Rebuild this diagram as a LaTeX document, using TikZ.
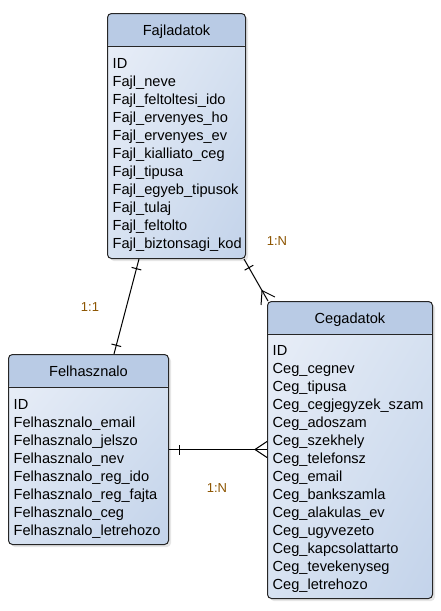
\documentclass[tikz,border=0pt]{standalone}
\usepackage{fontspec}
\setmainfont{Liberation Sans}
\usepackage{xcolor}
\usetikzlibrary{positioning, shadows, shadings, decorations.markings}

\definecolor{hdrblue}{RGB}{185,203,229}
\definecolor{bodylt}{RGB}{234,239,248}
\definecolor{bodymd}{RGB}{215,226,241}
\definecolor{bodydk}{RGB}{195,211,234}
\definecolor{cardtxt}{RGB}{140,84,0}

\begin{document}
\begin{tikzpicture}[
  x=1pt, y=-1pt,
  ent/.style={rectangle, rounded corners=4pt, draw=black!85, line width=1pt, inner sep=0pt,
              anchor=north west,
              drop shadow={shadow xshift=2.5pt, shadow yshift=-2.5pt, opacity=0.2},
              path picture={
                \shade[upper left=bodylt, upper right=bodymd, lower left=bodymd, lower right=bodydk]
                  (path picture bounding box.north west) rectangle (path picture bounding box.south east);
                \fill[hdrblue] (path picture bounding box.north west)
                  rectangle ([yshift=-\hdrh]path picture bounding box.north east);
                \draw[line width=1pt] ([yshift=-\hdrh]path picture bounding box.north west)
                  -- ([yshift=-\hdrh]path picture bounding box.north east);
              }},
  ttl/.style={font=\fontsize{14.6}{18}\selectfont, inner sep=0pt, anchor=base},
  fld/.style={font=\fontsize{14.6}{18}\selectfont, align=left, inner sep=0pt, anchor=north west},
  rel/.style={line width=1pt},
  onebeg/.style={postaction={decorate, decoration={markings,
                 mark=at position 10pt with {\draw (0pt,-5pt) -- (0pt,5pt);}}}},
  oneend/.style={postaction={decorate, decoration={markings,
                 mark=at position -9pt with {\draw (0pt,-5pt) -- (0pt,5pt);}}}},
  manyend/.style={postaction={decorate, decoration={markings,
                 mark=at position -12pt with {\draw (12pt,8pt) -- (0pt,0pt) -- (12pt,-8pt);}}}},
  lbl/.style={font=\fontsize{13}{15}\selectfont, text=cardtxt, inner sep=0pt}
]
\def\hdrh{33pt} % header band height

\useasboundingbox (0,0) rectangle (441,611);

% Fajladatok table
\node[ent, minimum width=138pt, minimum height=245pt] (fajl) at (107,13) {};
\node[ttl] (fajl title) at ([shift={(0,22)}]fajl.north) {Fajladatok};
\node[fld] (fajl rows) at ([shift={(5.5,45)}]fajl.north west) {ID\\Fajl\_neve\\Fajl\_feltoltesi\_ido\\
  Fajl\_ervenyes\_ho\\Fajl\_ervenyes\_ev\\Fajl\_kialliato\_ceg\\Fajl\_tipusa\\
  Fajl\_egyeb\_tipusok\\Fajl\_tulaj\\Fajl\_feltolto\\Fajl\_biztonsagi\_kod};

% Felhasznalo table
\node[ent, minimum width=160pt, minimum height=190pt] (felh) at (8,354) {};
\node[ttl] (felh title) at ([shift={(0,22)}]felh.north) {Felhasznalo};
\node[fld] (felh rows) at ([shift={(5.5,45.5)}]felh.north west) {ID\\Felhasznalo\_email\\
  Felhasznalo\_jelszo\\Felhasznalo\_nev\\Felhasznalo\_reg\_ido\\Felhasznalo\_reg\_fajta\\
  Felhasznalo\_ceg\\Felhasznalo\_letrehozo};

% Cegadatok table
\node[ent, minimum width=165pt, minimum height=297pt] (ceg) at (267,301) {};
\node[ttl] (ceg title) at ([shift={(0,22)}]ceg.north) {Cegadatok};
\node[fld] (ceg rows) at ([shift={(5.5,44.5)}]ceg.north west) {ID\\Ceg\_cegnev\\Ceg\_tipusa\\
  Ceg\_cegjegyzek\_szam\\Ceg\_adoszam\\Ceg\_szekhely\\Ceg\_telefonsz\\Ceg\_email\\
  Ceg\_bankszamla\\Ceg\_alakulas\_ev\\Ceg\_ugyvezeto\\Ceg\_kapcsolattarto\\
  Ceg\_tevekenyseg\\Ceg\_letrehozo};

% Relations
\draw[rel, onebeg, oneend] ([xshift=32pt]fajl.south west) -- ([xshift=106pt]felh.north west);
\draw[rel, onebeg, manyend] ([xshift=-2pt]fajl.south east) -- ([xshift=1pt]ceg.north west);
\draw[rel, onebeg, manyend] (felh.east) -- (felh.east -| ceg.west);

% Cardinality labels
\node[lbl] (card fh) at (90,307) {1:1};
\node[lbl] (card fc) at (277,241) {1:N};
\node[lbl] (card hc) at (217,488) {1:N};
\end{tikzpicture}
\end{document}
